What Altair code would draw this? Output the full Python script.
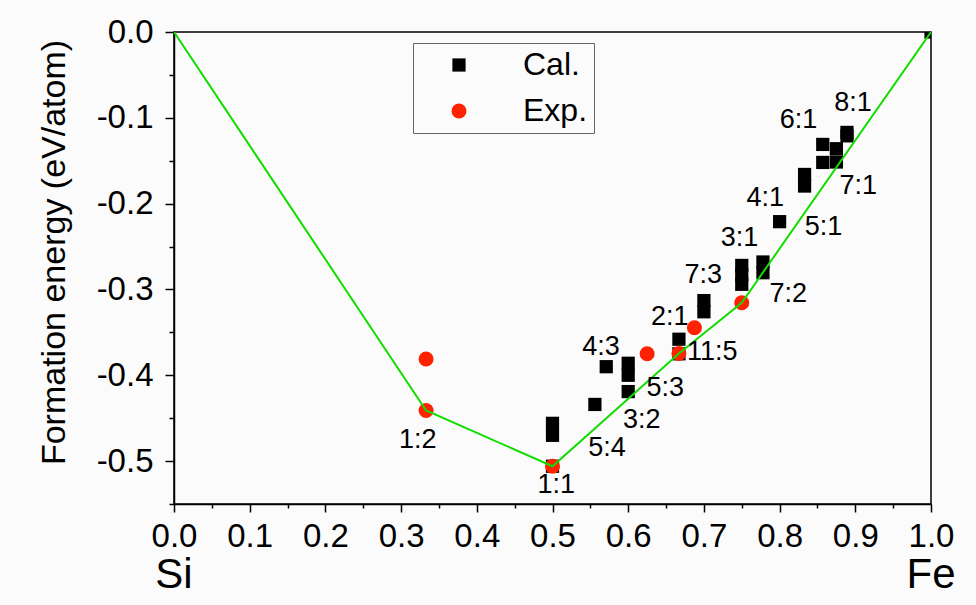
import altair as alt
import pandas as pd

# ---- data ----
cal_x = [0.5, 0.5, 0.5, 0.556, 0.571, 0.6, 0.6, 0.6, 0.667, 0.667, 0.7, 0.7,
         0.75, 0.75, 0.75, 0.778, 0.778, 0.8, 0.833, 0.833, 0.857, 0.857,
         0.875, 0.875, 0.889, 0.889, 1.0]
cal_y = [-0.506, -0.456, -0.470, -0.434, -0.390, -0.386, -0.400, -0.419,
         -0.358, -0.375, -0.313, -0.326, -0.272, -0.283, -0.294, -0.268,
         -0.2805, -0.221, -0.166, -0.1795, -0.131, -0.152, -0.136, -0.1515,
         -0.117, -0.121, 0.0]
exp_x = [0.333, 0.333, 0.5, 0.625, 0.667, 0.6875, 0.75]
exp_y = [-0.381, -0.441, -0.506, -0.375, -0.3745, -0.3446, -0.3155]
hull_x = [0.0, 0.333, 0.5, 0.667, 0.75, 1.0]
hull_y = [0.0, -0.441, -0.506, -0.3745, -0.3155, 0.0]
label_text = ["1:2", "1:1", "5:4", "3:2", "5:3", "4:3", "2:1", "11:5",
              "7:3", "3:1", "7:2", "4:1", "5:1", "6:1", "8:1", "7:1"]
label_x = [0.322, 0.505, 0.572, 0.618, 0.649, 0.564, 0.655, 0.711,
           0.699, 0.747, 0.8115, 0.781, 0.858, 0.825, 0.897, 0.904]
label_y = [-0.476, -0.528, -0.485, -0.452, -0.415, -0.367, -0.332, -0.373,
           -0.283, -0.2405, -0.305, -0.194, -0.227, -0.1026, -0.083, -0.180]
element_names = ["Si", "Fe"]
element_x = [0.0, 1.0]
series_names = ["Cal.", "Exp."]
x_ticks = [round(i * 0.05, 2) for i in range(21)]
y_ticks = [round(-0.55 + i * 0.05, 2) for i in range(12)]

FONT = "Liberation Sans"
RED = "#ff2200"
GREEN = "#11dd00"

pts = pd.DataFrame({
    "x": cal_x + exp_x,
    "y": cal_y + exp_y,
    "type": [series_names[0]] * len(cal_x) + [series_names[1]] * len(exp_x),
})
hull = pd.DataFrame({"x": hull_x, "y": hull_y})
labels = pd.DataFrame({"x": label_x, "y": label_y, "t": label_text})
elems = pd.DataFrame({"x": element_x, "t": element_names, "dx": [7, 10]})

major = "abs(datum.value*10 - round(datum.value*10)) < 0.001"

xaxis = alt.Axis(
    values=x_ticks, title=None,
    labelExpr=f"{major} ? format(datum.value, '.1f') : ''",
    tickSize={"condition": {"test": major, "value": 8}, "value": 4},
    labelPadding=8, labelFont=FONT, labelFontSize=33, labelColor="black",
    labelFlush=False, labelOverlap=False,
)
yaxis = alt.Axis(
    values=y_ticks, title="Formation energy (eV/atom)",
    labelExpr=f"{major} ? (datum.value < -0.001 ? '-' + format(-datum.value, '.1f') : '0.0') : ''",
    tickSize={"condition": {"test": major, "value": 9}, "value": 5},
    labelPadding=12, labelFont=FONT, labelFontSize=33, labelColor="black",
    labelFlush=False, labelOverlap=False,
    titleFont=FONT, titleFontSize=34, titleFontWeight="normal", titleColor="black",
    titleAngle=270, titleX=-110, titleY=220, titleAlign="center",
    titleBaseline="alphabetic",
)
X = alt.X("x:Q", scale=alt.Scale(domain=[0, 1], nice=False, zero=False), axis=xaxis)
Y = alt.Y("y:Q", scale=alt.Scale(domain=[-0.55, 0], nice=False, zero=False), axis=yaxis)

leg = alt.Legend(
    title=None, orient="none", legendX=239, legendY=11,
    strokeColor="#666666", padding=6,
    symbolOffset=24, labelOffset=48, labelFontSize=32, labelFont=FONT,
    labelColor="black", rowPadding=14, symbolSize=175, symbolStrokeWidth=0,
)

points = alt.Chart(pts).mark_point(filled=True, opacity=1, clip=True, strokeWidth=0).encode(
    x=X, y=Y,
    color=alt.Color("type:N", scale=alt.Scale(domain=series_names, range=["black", RED]), legend=leg),
    shape=alt.Shape("type:N", scale=alt.Scale(domain=series_names, range=["square", "circle"]), legend=leg),
    size=alt.Size("type:N", scale=alt.Scale(domain=series_names, range=[175, 225]), legend=None),
)

line = alt.Chart(hull).mark_line(color=GREEN, strokeWidth=2, clip=True).encode(x=X, y=Y)

texts = alt.Chart(labels).mark_text(
    font=FONT, fontSize=27, color="black", align="center", baseline="middle"
).encode(x=X, y=Y, text="t:N")

elem_text = alt.Chart(elems).mark_text(
    font=FONT, fontSize=42, color="black", align="center", baseline="alphabetic"
).encode(x=X, y=alt.value(556), text="t:N", xOffset=alt.XOffset("dx:Q", scale=None))

chart = alt.layer(points, line, texts, elem_text).properties(
    width=757, height=472,
    padding={"left": 174, "top": 32, "right": 45, "bottom": 101},
    autosize=alt.AutoSizeParams(type="none"),
    background="#fbfbfb",
).configure_view(
    stroke="black", strokeWidth=1.5
).configure_axis(
    domainColor="black", domainWidth=1.5, tickColor="black", tickWidth=1.5, grid=False
)

chart.save("out.html", embed_options={"renderer": "svg", "actions": False})
